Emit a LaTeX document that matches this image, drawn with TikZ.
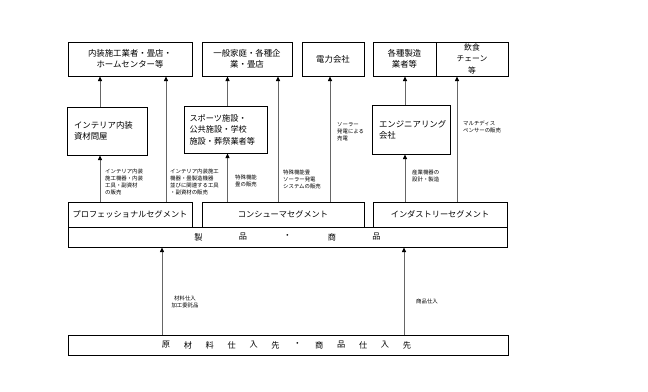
\documentclass[tikz,border=0pt]{standalone}
\usepackage{fontspec}
\setmainfont{Noto Sans CJK JP}
\usetikzlibrary{arrows.meta}
\tikzset{
  box/.style={draw=black, line width=1pt, inner sep=1pt, font=\fontsize{8.4}{10.8}\selectfont, align=center},
  lbox/.style={box, align=left},
  conn/.style={draw=black!60, line width=0.8pt, -{Triangle[length=4.5pt,width=4pt,color=black]}},
  lbl/.style={inner sep=0pt, font=\fontsize{5.4}{7}\selectfont, align=left, anchor=north west},
}
\begin{document}
\begin{tikzpicture}[x=1pt,y=-1pt]
\useasboundingbox[fill=white] (0,0) rectangle (648,391);
% top row
\node[box, minimum width=124pt, minimum height=34pt] (t1) at (130,59) {内装施工業者・畳店・\\ホームセンター等};
\node[box, minimum width=90pt, minimum height=34pt] (t2) at (247,59) {一般家庭・各種企\\業・畳店};
\node[box, minimum width=62pt, minimum height=34pt] (t3) at (333,59) {電力会社};
\node[box, minimum width=63pt, minimum height=34pt] (t4) at (404.5,59) {各種製造\\業者等};
\node[box, minimum width=72pt, minimum height=34pt, font=\fontsize{7.8}{11.3}\selectfont] (t5) at (472,59) {飲食\\チェーン\\等};
% middle row
\node[lbox, minimum width=80pt, minimum height=48pt, text width=66pt] (m1) at (107,131) {インテリア内装\\資材問屋};
\node[lbox, minimum width=83pt, minimum height=47pt, text width=72pt, font=\fontsize{8.2}{11.5}\selectfont] (m2) at (225.5,129.5) {スポーツ施設・\\公共施設・学校\\施設・葬祭業者等};
\node[lbox, minimum width=78pt, minimum height=49pt, text width=64pt] (m3) at (411,129.5) {エンジニアリング\\会社};
% segments
\node[box, minimum width=124pt, minimum height=25pt, font=\fontsize{8.2}{10}\selectfont] (s1) at (130,214.5) {プロフェッショナルセグメント};
\node[box, minimum width=162pt, minimum height=25pt, font=\fontsize{8.2}{10}\selectfont] (s2) at (283,214.5) {コンシューマセグメント};
\node[box, minimum width=134pt, minimum height=25pt, font=\fontsize{8.2}{10}\selectfont] (s3) at (440,214.5) {インダストリーセグメント};
% products
\node[box, minimum width=439pt, minimum height=20pt] (p) at (287.5,237) {};
\foreach \c/\xx in {製/198.5,品/243,・/287.5,商/332,品/376.5}
  \node[inner sep=0pt, font=\fontsize{8.2}{10}\selectfont] at (\xx,237) {\c};
% suppliers
\node[box, minimum width=440pt, minimum height=20pt] (b) at (288,345) {};
\foreach \c [count=\i] in {原,材,料,仕,入,先,・,商,品,仕,入,先}
  \node[inner sep=0pt, font=\fontsize{8.2}{10}\selectfont] at (166+21.9*\i-21.9,345) {\c};
% x positions
\coordinate (xa) at (100,0);
\coordinate (xb) at (166,0);
\coordinate (xc) at (227.5,0);
\coordinate (xd) at (278,0);
\coordinate (xe) at (330,0);
\coordinate (xf) at (405,0);
\coordinate (xg) at (457,0);
\coordinate (xh) at (162,0);
\coordinate (xi) at (404,0);
% connectors
\draw[conn] (m1.north -| xa) -- (t1.south -| xa);
\draw[conn] (s1.north -| xa) -- (m1.south -| xa);
\draw[conn] (s1.north -| xb) -- (t1.south -| xb);
\draw[conn] (m2.north -| xc) -- (t2.south -| xc);
\draw[conn] (s2.north -| xc) -- (m2.south -| xc);
\draw[conn] (s2.north -| xd) -- (t2.south -| xd);
\draw[conn] (s2.north -| xe) -- (t3.south -| xe);
\draw[conn] (m3.north -| xf) -- (t4.south -| xf);
\draw[conn] (s3.north -| xf) -- (m3.south -| xf);
\draw[conn] (s3.north -| xg) -- (t5.south -| xg);
\draw[conn] (b.north -| xh) -- (p.south -| xh);
\draw[conn] (b.north -| xi) -- (p.south -| xi);
% labels
\node[lbl] (l1) at (105,169) {インテリア内装\\施工機器・内装\\工具・副資材\\の販売};
\node[lbl] (l2) at (170,169) {インテリア内装施工\\機器・畳製造機器\\並びに関連する工具\\・副資材の販売};
\node[lbl] (l3) at (235,175) {特殊機能\\畳の販売};
\node[lbl] (l4) at (283,170) {特殊機能畳\\ソーラー発電\\システムの販売};
\node[lbl] (l5) at (337,122) {ソーラー\\発電による\\売電};
\node[lbl] (l6) at (463,121) {マルチディス\\ペンサーの販売};
\node[lbl] (l7) at (412,170) {産業機器の\\設計・製造};
\node[lbl, align=center, anchor=north] (l8) at (185,296) {材料仕入\\加工委託品};
\node[lbl] (l9) at (416,299) {商品仕入};
\end{tikzpicture}
\end{document}
